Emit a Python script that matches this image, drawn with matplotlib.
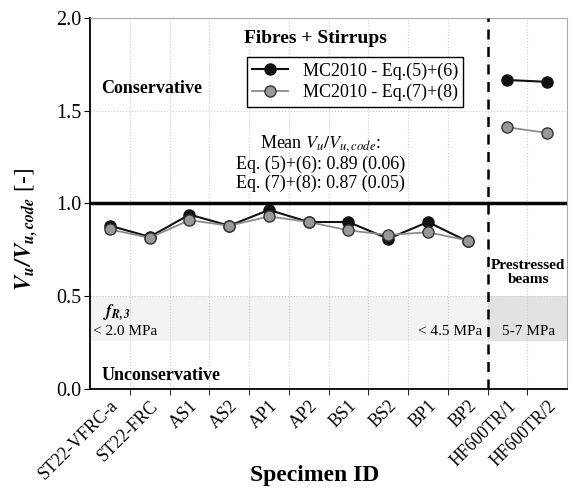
import numpy as np
import matplotlib
matplotlib.use('Agg')
import matplotlib.pyplot as plt

# 数据
specimens = ['ST22-VFRC-a', 'ST22-FRC', 'AS1', 'AS2', 'AP1', 'AP2',
             'BS1', 'BS2', 'BP1', 'BP2', 'HF600TR/1', 'HF600TR/2']
eq56 = [0.88, 0.82, 0.94, 0.88, 0.965, 0.90, 0.90, 0.81, 0.90, 0.795, 1.665, 1.655]
eq78 = [0.86, 0.815, 0.91, 0.88, 0.93, 0.90, 0.855, 0.83, 0.845, 0.80, 1.41, 1.38]
n_frc = 10  # 前10个为纤维梁, 后2个为预应力梁

plt.rcParams['font.family'] = ['Liberation Serif', 'DejaVu Serif']
plt.rcParams['mathtext.fontset'] = 'stix'

fig = plt.figure(figsize=(5.74, 4.95), dpi=100)
ax = fig.add_axes([0.157, 0.214, 0.831, 0.750])

x = np.arange(len(specimens))

# 阴影区域 f_R,3
ax.axhspan(0.26, 0.5, xmin=0, xmax=(n_frc) / 12, color='#f2f2f2', zorder=0, lw=0)
ax.axhspan(0.26, 0.5, xmin=n_frc / 12, xmax=1, color='#e2e2e2', zorder=0, lw=0)

# 数据线
ax.plot(x[:n_frc], eq56[:n_frc], '-o', color='#111111', lw=1.5, ms=8,
        mfc='#111111', mec='#111111', zorder=4, label='MC2010 - Eq.(5)+(6)')
ax.plot(x[n_frc:], eq56[n_frc:], '-o', color='#111111', lw=1.5, ms=8,
        mfc='#111111', mec='#111111', zorder=4)
ax.plot(x[:n_frc], eq78[:n_frc], '-o', color='#8c8c8c', lw=1.3, ms=8,
        mfc='#999999', mec='#333333', zorder=5, label='MC2010 - Eq.(7)+(8)')
ax.plot(x[n_frc:], eq78[n_frc:], '-o', color='#8c8c8c', lw=1.3, ms=8,
        mfc='#999999', mec='#333333', zorder=5)

ax.axhline(1.0, color='black', lw=2.5, zorder=3)
ax.axvline(n_frc - 0.5, color='black', lw=1.8, ls=(0, (4, 3)), zorder=3)

ax.set_xlim(-0.5, 11.5)
ax.set_ylim(0, 2.0)
ax.set_yticks([0, 0.5, 1.0, 1.5, 2.0])
ax.set_yticklabels(['0.0', '0.5', '1.0', '1.5', '2.0'], fontsize=14.5)
ax.set_xticks(x)
ax.set_xticklabels(specimens, rotation=45, ha='right', rotation_mode='anchor', fontsize=12.8)
ax.set_xticks(np.arange(0.5, 11.5, 1), minor=True)
ax.tick_params(axis='x', which='major', length=0, pad=6)
ax.tick_params(axis='x', which='minor', length=4, direction='out')
ax.tick_params(axis='y', length=4, direction='out', pad=2)

ax.grid(True, which='minor', axis='x', color='#cccccc', ls=':', lw=0.8)
ax.grid(True, which='major', axis='y', color='#cccccc', ls=':', lw=0.8)

for s in ['top', 'right']:
    ax.spines[s].set_color('#aaaaaa')
for s in ['left', 'bottom']:
    ax.spines[s].set_linewidth(1.3)

ax.set_ylabel(r'$\mathbfit{V_u/V_{u,code}}$ [-]', fontsize=16.5, fontweight='normal', va='center')
ax.yaxis.set_label_coords(-0.134, 0.431)
ax.set_xlabel('Specimen ID', fontsize=17, fontweight='bold', va='center')
ax.xaxis.set_label_coords(0.47, -0.232)

leg = ax.legend(loc='upper center', bbox_to_anchor=(0.555, 0.895), fontsize=13,
                fancybox=False, framealpha=1, edgecolor='black', borderaxespad=0,
                handlelength=2.0, borderpad=0.3, labelspacing=0.25)
leg.get_frame().set_linewidth(1.0)

# 注释文字
ax.text(5.16, 1.89, 'Fibres + Stirrups', ha='center', va='center', fontsize=14, fontweight='bold')
ax.text(-0.22, 1.62, 'Conservative', ha='left', va='center', fontsize=13, fontweight='bold')
ax.text(5.29, 1.22, 'Mean $V_u/V_{u,code}$:\nEq. (5)+(6): 0.89 (0.06)\nEq. (7)+(8): 0.87 (0.05)',
        ha='center', va='center', fontsize=13, linespacing=1.1)
ax.text(10.52, 0.63, 'Prestressed\nbeams', ha='center', va='center', fontsize=11,
        fontweight='bold', linespacing=1.1)
ax.text(-0.17, 0.415, r'$\mathbfit{f_{R,3}}$', ha='left', va='center', fontsize=12)
ax.text(-0.42, 0.31, '< 2.0 MPa', ha='left', va='center', fontsize=11)
ax.text(9.36, 0.31, '< 4.5 MPa', ha='right', va='center', fontsize=11)
ax.text(10.52, 0.31, '5-7 MPa', ha='center', va='center', fontsize=11)
ax.text(-0.22, 0.075, 'Unconservative', ha='left', va='center', fontsize=13, fontweight='bold')

fig.savefig('out.png', dpi=100)
